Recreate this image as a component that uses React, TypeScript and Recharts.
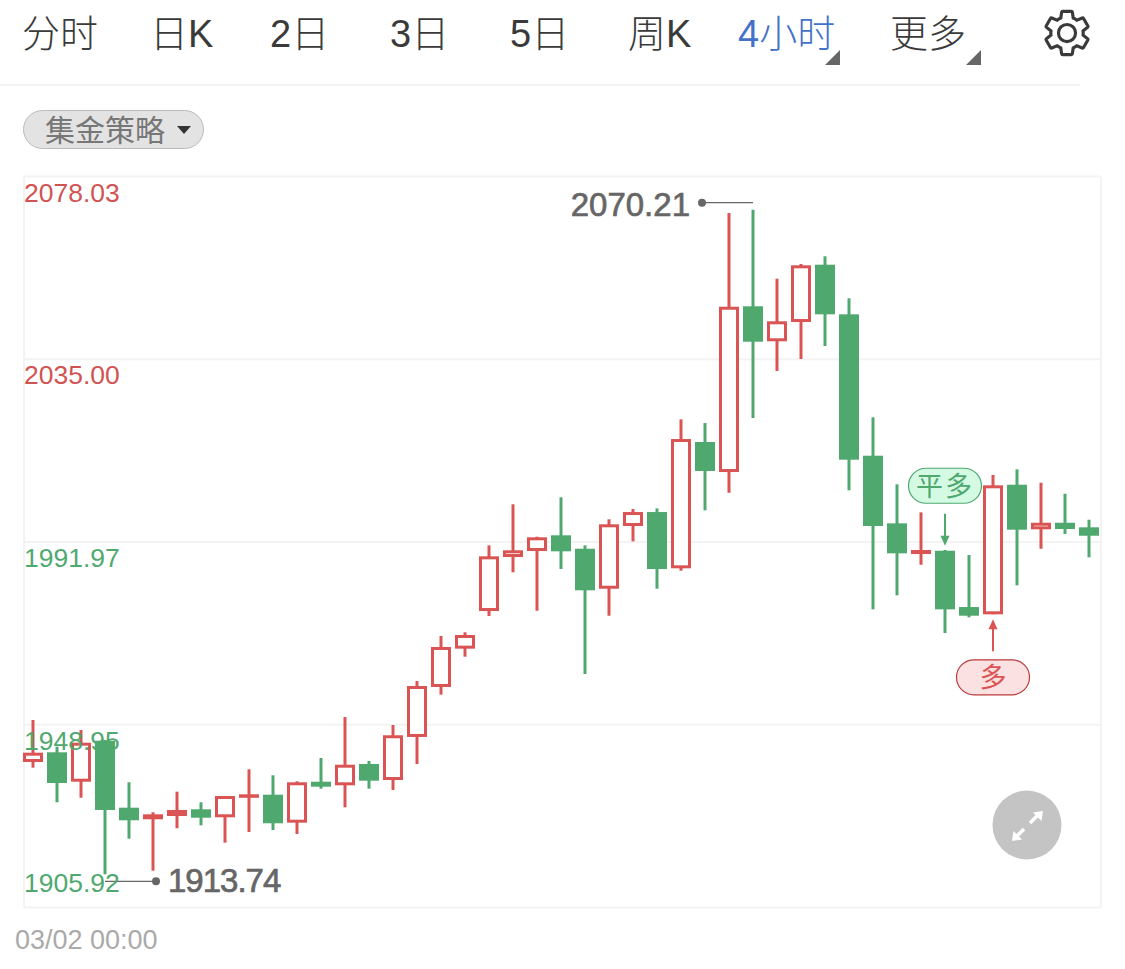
import { Bar, CartesianGrid, ComposedChart, ReferenceDot, XAxis, YAxis } from 'recharts';

const opens = [
  1940.18, 1942.46, 1935.54, 1945.19, 1929.42, 1926.69, 1927.46, 1929.04, 1927.16, 1931.87,
  1932.48, 1925.89, 1935.54, 1934.69, 1939.71, 1935.94, 1946.07, 1957.84, 1966.86, 1975.72,
  1988.44, 1989.85, 1993.55, 1990.39, 1980.97, 1995.74, 1999.03, 1985.78, 2015.52, 2008.45,
  2047.47, 2039.23, 2043.77, 2057.26, 2045.58, 2012.29, 1996.37, 1989.14, 1989.92, 1976.66,
  1974.95, 2005.46, 1994.96, 1996.51, 1995.43
];
const closes = [
  1942.37, 1935.23, 1944.72, 1928.88, 1926.45, 1927.86, 1928.88, 1927.06, 1932.17, 1932.57,
  1925.75, 1935.4, 1934.36, 1939.54, 1935.78, 1946.47, 1958.07, 1967.26, 1970.08, 1988.6,
  1990.02, 1993.08, 1989.78, 1980.6, 1996.14, 1999.03, 1985.61, 2016.22, 2008.69, 2047.37,
  2039.13, 2043.94, 2057.12, 2045.58, 2011.35, 1995.74, 1989.31, 1990.09, 1976.12, 1974.62,
  2005.32, 1994.87, 1996.51, 1995.03, 1993.45
];
const highs = [
  1950.07, 1943.78, 1947.71, 1945.36, 1935.4, 1928.34, 1933.19, 1930.69, 1932.17, 1938.46,
  1937.05, 1935.63, 1941.12, 1950.77, 1940.41, 1948.89, 1959.25, 1969.85, 1970.72, 1991.19,
  2000.85, 1993.22, 2002.5, 1991.19, 1997.32, 1999.74, 1999.9, 2020.86, 2019.99, 2069.44,
  2070.21, 2053.97, 2057.43, 2059.24, 2049.35, 2021.33, 2005.56, 1998.96, 1990.09, 1988.91,
  2007.75, 2009.09, 2005.93, 2003.34, 1997.22
];
const lows = [
  1938.84, 1930.69, 1931.77, 1913.74, 1922.12, 1914.58, 1924.57, 1925.27, 1921.18, 1923.7,
  1924.17, 1923.23, 1933.89, 1929.51, 1933.89, 1933.59, 1939.71, 1956.03, 1964.97, 1974.55,
  1984.84, 1975.79, 1985.61, 1960.89, 1974.62, 1992.13, 1980.97, 1985.21, 1999.43, 2003.58,
  2021.17, 2032.23, 2035.06, 2038.12, 2004.14, 1976.12, 1979.42, 1986.62, 1970.54, 1974.24,
  1974.95, 1981.77, 1990.39, 1993.85, 1988.37
];
const priceTicks = [1905.92, 1948.95, 1991.97, 2035.0, 2078.03];
const tabs = ['分时', '日K', '2日', '3日', '5日', '周K', '4小时', '更多'];
const tabLeft = [22, 150, 270, 390, 510, 628, 738, 890];

const candles = opens.map((open, i) => ({ i, open, close: closes[i], high: highs[i], low: lows[i] }));

const RED = '#da5454';
const GREEN = '#4fa96f';
const FONT = '"Liberation Sans", "Noto Sans CJK SC", sans-serif';

function Candle(props: any) {
  const { x, y, width, height, payload } = props;
  const perUnit = height / (payload.high - payload.low);
  const toY = (v: number) => y + (payload.high - v) * perUnit;
  const top = toY(Math.max(payload.open, payload.close));
  const bottom = toY(Math.min(payload.open, payload.close));
  const mid = x + width / 2;
  const rising = payload.close >= payload.open;
  const color = rising ? RED : GREEN;
  return (
    <g>
      <line x1={mid} x2={mid} y1={y} y2={y + height} stroke={color} strokeWidth={3} />
      {rising ? (
        <rect
          x={x + 1.5}
          y={top + 1.5}
          width={width - 3}
          height={Math.max(bottom - top - 3, 0.5)}
          fill="#fff"
          stroke={color}
          strokeWidth={3}
        />
      ) : (
        <rect x={x} y={top} width={width} height={bottom - top} fill={color} />
      )}
    </g>
  );
}

function PriceTick(props: any) {
  const { y, payload } = props;
  const v = Number(payload.value);
  const offset = v === priceTicks[0] ? -16 : 25;
  return (
    <text x={24} y={y + offset} fontSize={26.5} fontFamily={FONT} fill={v > 2000 ? '#d25353' : GREEN}>
      {v.toFixed(2)}
    </text>
  );
}

function ExtremeMark({ cx, cy, side, value, shift, textDy, tighten }: any) {
  const lineY = cy + shift;
  const dotX = cx + side * 51;
  return (
    <g>
      <line x1={cx} x2={dotX} y1={lineY} y2={lineY} stroke="#666" strokeWidth={1.2} />
      <circle cx={dotX} cy={lineY} r={4} fill="#666" />
      <text
        x={dotX + side * 12}
        y={lineY + textDy}
        textAnchor={side > 0 ? 'start' : 'end'}
        fontSize={33}
        letterSpacing={-tighten}
        fontFamily={FONT}
        fill="#666"
        stroke="#666"
        strokeWidth={0.7}
      >
        {value.toFixed(2)}
      </text>
    </g>
  );
}

function TradeMark({ cx, cy, text, dir, color, fill, border }: any) {
  // dir -1: flag sits above the candle and points down, 1: flag sits below and points up
  const tipY = cy + dir * 5;
  const tailY = tipY + dir * 32;
  const pillY = dir < 0 ? cy - 65 : cy + 63;
  return (
    <g>
      <line x1={cx} x2={cx} y1={tailY} y2={tipY + dir * 8} stroke={color} strokeWidth={2} />
      <path d={`M${cx} ${tipY} L${cx - 4.5} ${tipY + dir * 10} L${cx + 4.5} ${tipY + dir * 10} Z`} fill={color} />
      <rect x={cx - 36.5} y={pillY - 17.5} width={73} height={35} rx={17.5} fill={fill} stroke={border} strokeWidth={1.2} />
      <text x={cx} y={pillY + 10} textAnchor="middle" fontSize={27} letterSpacing={text.length > 1 ? 2 : 0} fontFamily={FONT} fill={color}>
        {text}
      </text>
    </g>
  );
}

function Corner({ left }: { left: number }) {
  return (
    <svg style={{ position: 'absolute', left, top: 50 }} width={15} height={15}>
      <path d="M15 0V15H0Z" fill="#666" />
    </svg>
  );
}

function Header() {
  return (
    <>
      {tabs.map((t, i) => (
        <div
          key={t}
          style={{
            position: 'absolute',
            left: tabLeft[i],
            top: 11,
            fontSize: 38,
            lineHeight: '46px',
            fontWeight: 300,
            color: t === '4小时' ? '#4472c8' : '#3a3a3a',
            whiteSpace: 'nowrap'
          }}
        >
          {t}
        </div>
      ))}
      <Corner left={825} />
      <Corner left={966} />
      <svg style={{ position: 'absolute', left: 1040, top: 6 }} width={54} height={54} viewBox="0 0 24 24">
        <path
          d="M19.14 12.94c.04-.3.06-.61.06-.94 0-.32-.02-.64-.07-.94l2.03-1.58c.18-.14.23-.41.12-.61l-1.92-3.32c-.12-.22-.37-.29-.59-.22l-2.39.96c-.5-.38-1.03-.7-1.62-.94l-.36-2.54c-.04-.24-.24-.41-.48-.41h-3.84c-.24 0-.43.17-.47.41l-.36 2.54c-.59.24-1.13.57-1.62.94l-2.39-.96c-.22-.08-.47 0-.59.22L2.74 8.87c-.12.21-.08.47.12.61l2.03 1.58c-.05.3-.09.63-.09.94s.02.64.07.94l-2.03 1.58c-.18.14-.23.41-.12.61l1.92 3.32c.12.22.37.29.59.22l2.39-.96c.5.38 1.03.7 1.62.94l.36 2.54c.05.24.24.41.48.41h3.84c.24 0 .44-.17.47-.41l.36-2.54c.59-.24 1.13-.56 1.62-.94l2.39.96c.22.08.47 0 .59-.22l1.92-3.32c.12-.22.07-.47-.12-.61l-2.01-1.58z"
          fill="none"
          stroke="#3a3a3a"
          strokeWidth={1.4}
        />
        <circle cx={12} cy={12} r={3.8} fill="none" stroke="#3a3a3a" strokeWidth={1.4} />
      </svg>
      <div style={{ position: 'absolute', left: 0, top: 84, width: 1080, height: 2, background: '#f3f3f3' }} />
      <div
        style={{
          position: 'absolute',
          left: 23,
          top: 110,
          width: 179,
          height: 37,
          borderRadius: 20,
          background: '#e3e3e3',
          border: '1px solid #bbb'
        }}
      />
      <div style={{ position: 'absolute', left: 45, top: 112, fontSize: 30, lineHeight: '38px', color: '#777', whiteSpace: 'nowrap' }}>
        集金策略
      </div>
      <svg style={{ position: 'absolute', left: 176, top: 125 }} width={16} height={10}>
        <path d="M1 1H15L8 9Z" fill="#333" />
      </svg>
    </>
  );
}

function ExpandButton() {
  return (
    <svg style={{ position: 'absolute', left: 992, top: 790 }} width={70} height={70}>
      <circle cx={35} cy={35} r={34.5} fill="#c4c4c4" />
      <g stroke="#fff" strokeWidth={3.5}>
        <line x1={25} y1={46} x2={32} y2={39} />
        <line x1={38} y1={33} x2={46} y2={25} />
      </g>
      <path d="M51 21L49.5 31L41 22.5Z M20 51L21.5 41L30 49.5Z" fill="#fff" />
    </svg>
  );
}

export default function App() {
  return (
    <div
      style={{
        position: 'absolute',
        left: 0,
        top: 0,
        width: 1125,
        height: 969,
        overflow: 'hidden',
        background: '#fff',
        fontFamily: FONT
      }}
    >
      <Header />
      <div style={{ position: 'absolute', left: 0, top: 0 }}>
        <ComposedChart width={1125} height={969} data={candles} margin={{ top: 176.5, right: 24, bottom: 61.5, left: 24 }}>
          <CartesianGrid
            stroke="#f3f3f3"
            strokeWidth={2}
            verticalCoordinatesGenerator={({ offset }: any) => [offset.left, offset.left + offset.width]}
          />
          <XAxis dataKey="i" hide padding={{ left: -3, right: 0 }} />
          <YAxis
            domain={[1905.92, 2078.03]}
            ticks={priceTicks}
            interval={0}
            mirror
            axisLine={false}
            tickLine={false}
            tick={(p: any) => <PriceTick {...p} />}
          />
          <Bar dataKey={(d: any) => [d.low, d.high]} barSize={20} shape={<Candle />} isAnimationActive={false} />
          <ReferenceDot
            x={30}
            y={highs[30]}
            ifOverflow="visible"
            shape={(p: any) => <ExtremeMark cx={p.cx} cy={p.cy} side={-1} shift={-7} textDy={13} tighten={0} value={highs[30]} />}
          />
          <ReferenceDot
            x={3}
            y={lows[3]}
            ifOverflow="visible"
            shape={(p: any) => <ExtremeMark cx={p.cx} cy={p.cy} side={1} shift={7} textDy={11} tighten={1} value={lows[3]} />}
          />
          <ReferenceDot
            x={38}
            y={opens[38]}
            ifOverflow="visible"
            shape={(p: any) => (
              <TradeMark cx={p.cx} cy={p.cy} dir={-1} text="平多" color={GREEN} fill="#d5fae4" border="#4fa96f" />
            )}
          />
          <ReferenceDot
            x={40}
            y={opens[40]}
            ifOverflow="visible"
            shape={(p: any) => (
              <TradeMark cx={p.cx} cy={p.cy} dir={1} text="多" color={RED} fill="#fbe1e1" border="#b93b3b" />
            )}
          />
        </ComposedChart>
      </div>
      <ExpandButton />
      <div style={{ position: 'absolute', left: 15, top: 925, fontSize: 27, lineHeight: '30px', color: '#aaa', whiteSpace: 'nowrap' }}>
        03/02 00:00
      </div>
    </div>
  );
}
